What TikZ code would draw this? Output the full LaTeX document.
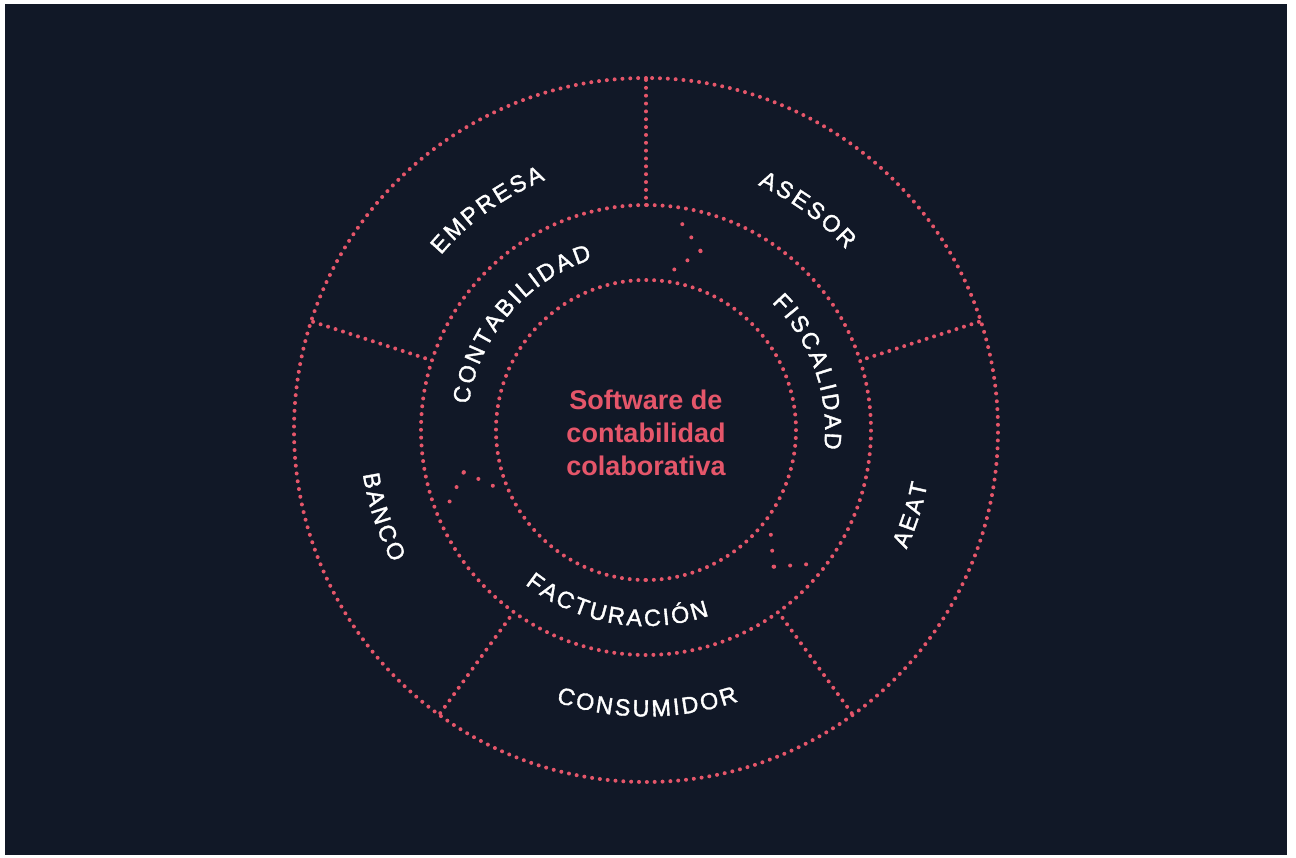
\documentclass[tikz,border=0pt]{standalone}
\usepackage{fontspec}
\setmainfont{Liberation Sans}
\newfontfamily\ringfont[FakeBold=1.5]{Liberation Sans}
\usetikzlibrary{decorations.text}
\definecolor{navy}{HTML}{111827}
\definecolor{coral}{HTML}{E5566A}

\begin{document}
\begin{tikzpicture}[x=1pt, y=1pt,
  dots/.style={coral, line width=4pt, line cap=round, dash pattern=on 0pt off 7.85pt},
  pins/.style={coral, line width=4pt, line cap=round, dash pattern=on 0pt off 16pt},
  ringtext/.style={decorate, decoration={text along path, text align=center, text color=white,
    text={|\ringfont\fontsize{23.5}{24}\selectfont\kern2.5pt|#1}}}]
\fill[white] (-646,430) rectangle (650,-427);
\fill[navy] (-641,426) rectangle (641,-425);
% rings
\draw[dots] (90:352) arc[start angle=90, end angle=450, radius=352];
\draw[dots] (90:225) arc[start angle=90, end angle=450, radius=225];
\draw[dots] (270:150) arc[start angle=270, end angle=630, radius=150];
\foreach \a in {18,90,162,234,306}
  \draw[dots] (\a:350) -- (\a:226);
\foreach \a in {80,200,320} {
  \draw[pins] (\a:209) -- (\a-7:187);
  \draw[pins] (\a:163) -- (\a-7:187);
}
% outer ring
\path[ringtext=EMPRESA] (166:269.5) arc[start angle=166, end angle=86, radius=269.5];
\path[ringtext=ASESOR] (94:269.5) arc[start angle=94, end angle=14, radius=269.5];
\path[ringtext=AEAT] (-58:286.5) arc[start angle=-58, end angle=22, radius=286.5];
\path[ringtext=CONSUMIDOR] (230:286.5) arc[start angle=230, end angle=310, radius=286.5];
\path[ringtext=BANCO] (158:286.5) arc[start angle=158, end angle=238, radius=286.5];
% middle ring
\path[ringtext=CONTABILIDAD] (200:179) arc[start angle=200, end angle=80, radius=179];
\path[ringtext=FISCALIDAD] (80:179) arc[start angle=80, end angle=-40, radius=179];
\path[ringtext=FACTURACIÓN] (200:196) arc[start angle=200, end angle=320, radius=196];
\node[coral, font=\fontsize{27}{33}\selectfont\bfseries, align=center] (core) at (0,-3)
  {Software de\\contabilidad\\colaborativa};
\end{tikzpicture}
\end{document}
